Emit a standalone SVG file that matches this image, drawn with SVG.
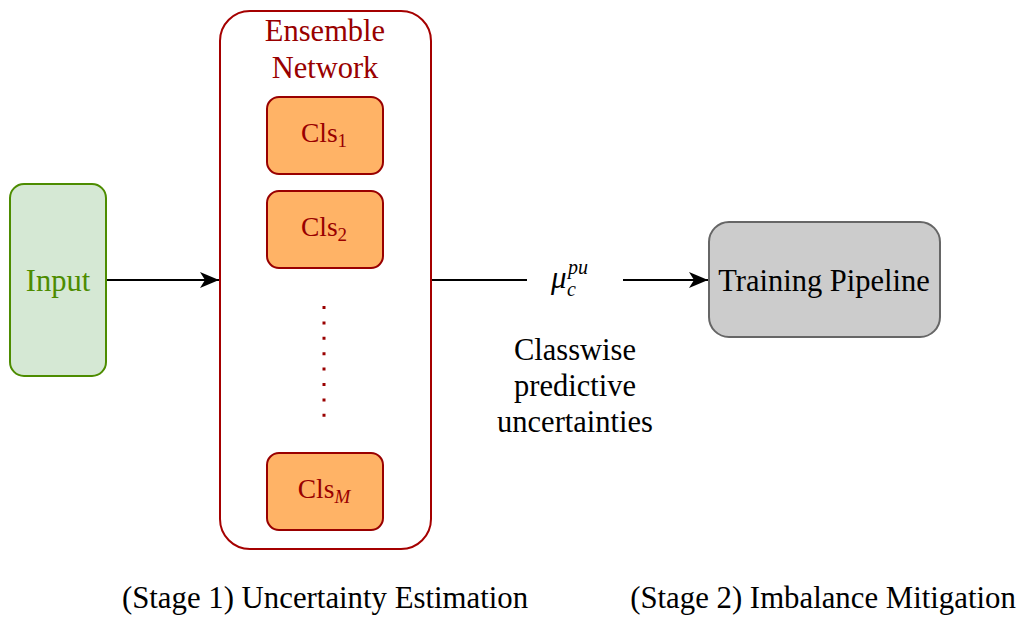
<svg xmlns="http://www.w3.org/2000/svg" width="1019" height="619" viewBox="0 0 1019 619">
<style>
text{font-family:'Liberation Serif','Tinos','DejaVu Serif',serif;font-size:30.5px;text-anchor:middle}
.red{fill:#990000}
.cls{fill:#FFB366;stroke:#990000;stroke-width:2}
.conn{stroke:#000;stroke-width:2;fill:none}
.m{font-size:27.5px}
.sub{font-size:19px}
.it{font-style:italic}
.mu{font-size:31px;text-anchor:start;font-style:italic}
.sc{font-size:20px;text-anchor:start;font-style:italic}
.st{font-size:30.8px}
</style>
<defs>
<marker id="arrow" viewBox="0 0 20 20" refX="19" refY="10" markerWidth="20" markerHeight="20" markerUnits="userSpaceOnUse" orient="auto">
<path d="M0,2 L19,10 L0,18 L5,10 Z" fill="#000"/>
</marker>
</defs>
<rect width="1019" height="619" fill="#fff"/>
<g id="connectors">
<line class="conn" x1="107" y1="280" x2="219" y2="280" marker-end="url(#arrow)"/>
<line class="conn" x1="431" y1="280" x2="527" y2="280"/>
<line class="conn" x1="623" y1="280" x2="708" y2="280" marker-end="url(#arrow)"/>
</g>
<g id="input">
<rect x="10" y="184" width="96" height="192" rx="14" fill="#d5e8d4" stroke="#4d8c00" stroke-width="2"/>
<text x="58" y="291" fill="#4d8c00">Input</text>
</g>
<g id="ensemble">
<rect x="220" y="11" width="211" height="538" rx="30" fill="#fff" stroke="#a50000" stroke-width="2"/>
<text x="325" y="41" class="red">Ensemble</text>
<text x="325" y="78" class="red">Network</text>
</g>
<g id="cls1">
<rect class="cls" x="267" y="97" width="116" height="77" rx="12"/>
<text x="324" y="142" class="red m">Cls<tspan class="sub" dy="5">1</tspan></text>
</g>
<g id="cls2">
<rect class="cls" x="267" y="191" width="116" height="77" rx="12"/>
<text x="324" y="236" class="red m">Cls<tspan class="sub" dy="5">2</tspan></text>
</g>
<g id="dots">
<line x1="324" y1="306" x2="324" y2="418" stroke="#990000" stroke-width="3" stroke-dasharray="3 12.4"/>
</g>
<g id="clsM">
<rect class="cls" x="267" y="453" width="116" height="77" rx="12"/>
<text x="324" y="498" class="red m">Cls<tspan class="sub it" dy="5">M</tspan></text>
</g>
<g id="mu-label">
<text x="551" y="288" class="mu">μ</text>
<text x="567" y="296" class="sc">c</text>
<text x="568" y="274" class="sc">pu</text>
</g>
<g id="classwise">
<text x="575" y="360">Classwise</text>
<text x="575" y="396">predictive</text>
<text x="575" y="432">uncertainties</text>
</g>
<g id="training">
<rect x="709" y="222" width="231" height="115" rx="20" fill="#cccccc" stroke="#666666" stroke-width="2"/>
<text x="824" y="291">Training Pipeline</text>
</g>
<g id="stages">
<text x="325" y="608" class="st">(Stage 1) Uncertainty Estimation</text>
<text x="823" y="608" class="st">(Stage 2) Imbalance Mitigation</text>
</g>
</svg>
